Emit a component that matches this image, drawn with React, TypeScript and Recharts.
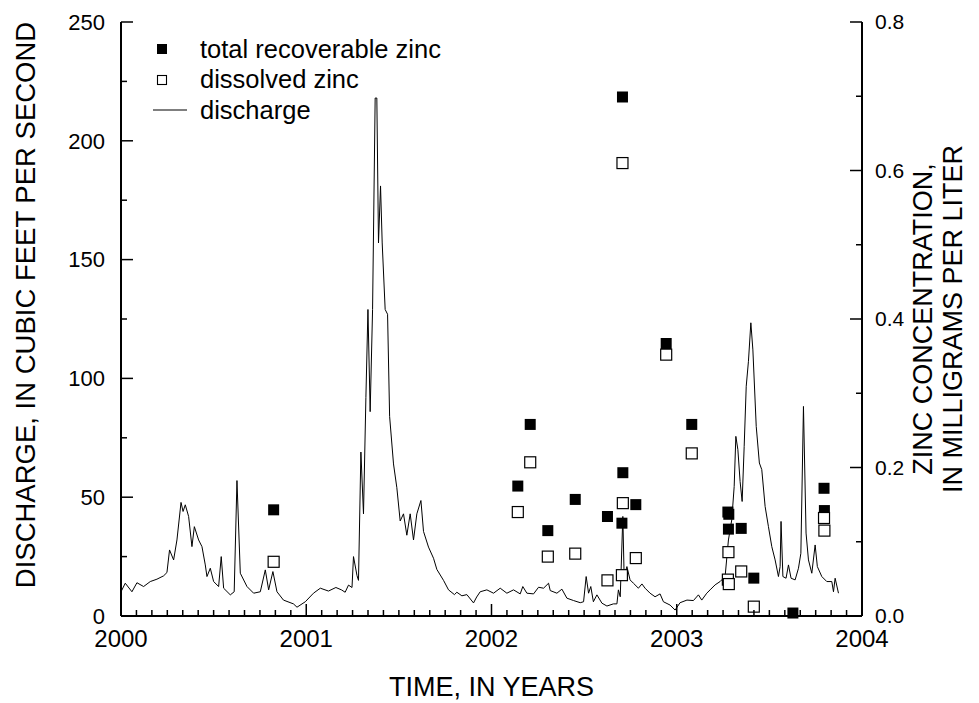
import React from "react";
import {
  ComposedChart,
  Line,
  Scatter,
  XAxis,
  YAxis,
  Legend,
} from "recharts";

const FONT = '"Liberation Sans", Arial, Helvetica, sans-serif';

// #region data
// daily discharge, sampled at the turning points of the trace (decimal year, cfs)
const dischargeYear = [
  2000.0, 2000.023, 2000.059, 2000.086, 2000.122, 2000.158, 2000.194, 2000.23,
  2000.248, 2000.262, 2000.284, 2000.302, 2000.324, 2000.335, 2000.347, 2000.365,
  2000.383, 2000.396, 2000.419, 2000.437, 2000.455, 2000.464, 2000.482, 2000.5,
  2000.527, 2000.541, 2000.554, 2000.59, 2000.611, 2000.626, 2000.644, 2000.68,
  2000.716, 2000.752, 2000.779, 2000.797, 2000.82, 2000.842, 2000.877, 2000.931,
  2000.95, 2000.995, 2001.039, 2001.076, 2001.12, 2001.16, 2001.19, 2001.21,
  2001.228, 2001.247, 2001.255, 2001.274, 2001.282, 2001.295, 2001.309, 2001.322,
  2001.333, 2001.345, 2001.358, 2001.372, 2001.381, 2001.39, 2001.401, 2001.41,
  2001.426, 2001.439, 2001.45, 2001.471, 2001.489, 2001.507, 2001.525, 2001.543,
  2001.561, 2001.579, 2001.597, 2001.619, 2001.633, 2001.66, 2001.687, 2001.705,
  2001.741, 2001.768, 2001.8, 2001.813, 2001.84, 2001.867, 2001.903, 2001.92,
  2001.939, 2001.975, 2002.011, 2002.047, 2002.083, 2002.119, 2002.155, 2002.169,
  2002.191, 2002.227, 2002.254, 2002.281, 2002.308, 2002.317, 2002.353, 2002.38,
  2002.407, 2002.443, 2002.479, 2002.497, 2002.511, 2002.524, 2002.536, 2002.55,
  2002.569, 2002.596, 2002.623, 2002.658, 2002.677, 2002.685, 2002.695, 2002.709,
  2002.716, 2002.731, 2002.748, 2002.766, 2002.793, 2002.812, 2002.829, 2002.856,
  2002.883, 2002.91, 2002.928, 2002.964, 2002.991, 2003.018, 2003.055, 2003.09,
  2003.117, 2003.135, 2003.162, 2003.18, 2003.207, 2003.234, 2003.261, 2003.279,
  2003.297, 2003.31, 2003.319, 2003.33, 2003.342, 2003.353, 2003.364, 2003.375,
  2003.387, 2003.4, 2003.411, 2003.429, 2003.446, 2003.459, 2003.477, 2003.495,
  2003.513, 2003.531, 2003.549, 2003.558, 2003.563, 2003.573, 2003.59, 2003.603,
  2003.617, 2003.639, 2003.657, 2003.67, 2003.684, 2003.698, 2003.711, 2003.729,
  2003.747, 2003.759, 2003.783, 2003.81, 2003.837, 2003.846, 2003.855, 2003.873,
];
const dischargeCfs = [
  10.2, 13.8, 10.2, 14, 12.4, 14.5, 15.5, 16.9,
  18.3, 27.8, 23.6, 32, 47.8, 44, 46.8, 41.9,
  29.2, 37.6, 32, 29.2, 21.5, 16.6, 20.1, 14.5,
  12.4, 25, 11.7, 8.9, 10.2, 57, 18, 12.4,
  9.6, 10.2, 19.4, 11, 18.7, 10.2, 6.7, 5.1,
  3.7, 6, 9.6, 11.7, 10.5, 12, 11, 10,
  13, 12, 25, 17, 15, 69, 43, 92,
  129, 86, 129, 218, 218, 157, 181, 157,
  129, 127, 84, 64, 54, 40, 43, 34,
  43, 32, 43, 48.6, 35.6, 29, 24.3, 19.6,
  15, 11, 9, 10, 8.5, 9, 5.5, 8,
  10.2, 11, 9.6, 11.7, 9.6, 11, 9.3, 12.4,
  9.6, 9.3, 12.1, 11.7, 13.8, 10.7, 9.6, 11.3,
  7.5, 6.5, 5.6, 6, 16.6, 9.6, 12.4, 6,
  8.9, 5.4, 4.2, 5.1, 5.1, 11, 8.1, 41.9,
  16.6, 20.8, 15.2, 13.8, 11.7, 13.5, 11.7, 9.6,
  8.1, 9.3, 6, 4.6, 2.5, 5.6, 6.7, 6.5,
  8.9, 6.7, 9.6, 11, 13.1, 14.5, 16.6, 32,
  40.5, 54.5, 75.6, 70, 56.6, 48.2, 71.4, 96.7,
  107.2, 123.4, 112, 79.8, 64.4, 61.6, 46.1, 37.6,
  29.2, 23.6, 16.6, 20.8, 39.8, 16.6, 15.9, 21.5,
  15.9, 15.2, 20.1, 26.4, 88.2, 34.9, 23.6, 18,
  29.9, 20.8, 16.6, 14.5, 14.5, 10.2, 15.9, 9.6,
];

// water-quality samples (decimal year, mg/L); null = not plotted
const sampleYear = [
  2000.824, 2002.142, 2002.209, 2002.304, 2002.452, 2002.626, 2002.704,
  2002.707, 2002.709, 2002.779, 2002.943, 2003.081, 2003.276, 2003.281,
  2003.279, 2003.348, 2003.416, 2003.627, 2003.795, 2003.797,
];
const totalZinc = [
  0.143, 0.175, 0.258, 0.115, 0.157, 0.134, 0.125,
  0.699, 0.193, 0.15, 0.367, 0.258, 0.14, 0.137,
  0.117, 0.118, 0.051, 0.004, 0.172, 0.142,
];
const dissolvedZinc = [
  0.073, 0.14, 0.207, 0.08, 0.084, 0.048, 0.055,
  0.61, 0.152, 0.078, 0.352, 0.219, 0.049, 0.043,
  0.086, 0.06, 0.0126, null, 0.132, 0.115,
];

const yearLabels = [2000, 2001, 2002, 2003, 2004];
const dischargeTicks = [0, 25, 50, 75, 100, 125, 150, 175, 200, 225, 250];
const zincTicks = [0, 0.1, 0.2, 0.3, 0.4, 0.5, 0.6, 0.7, 0.8];
// #endregion

const monthTicks = Array.from({ length: 49 }, (_, i) => 2000 + i / 12);
const isYear = (v: number) => yearLabels.some((y) => Math.abs(y - v) < 1e-6);

const flowData = dischargeYear.map((t, i) => ({ t, q: dischargeCfs[i] }));
const totalData = sampleYear.map((t, i) => ({ t, c: totalZinc[i] }));
const dissolvedData = sampleYear
  .map((t, i) => ({ t, c: dissolvedZinc[i] }))
  .filter((d) => d.c !== null);

const yTickText = { fontSize: 22, fontFamily: FONT, fill: "#000" };
const xTickText = { fontSize: 24, fontFamily: FONT, fill: "#000" };

function BottomTick({ x, y, payload }: any) {
  const major = isYear(payload.value);
  return (
    <g>
      <line x1={x} y1={y} x2={x} y2={y - (major ? 12 : 6)} stroke="#000" strokeWidth={1.5} />
      {major && (
        <text x={x} y={y + 14} dy="0.71em" textAnchor="middle" {...xTickText}>
          {Math.round(payload.value)}
        </text>
      )}
    </g>
  );
}

function TopTick({ x, y, payload }: any) {
  const major = isYear(payload.value);
  return <line x1={x} y1={y} x2={x} y2={y + (major ? 12 : 6)} stroke="#000" strokeWidth={1.5} />;
}

function LeftTick({ x, y, payload }: any) {
  const major = payload.value % 50 === 0;
  return (
    <g>
      <line x1={x} y1={y} x2={x + (major ? 12 : 6)} y2={y} stroke="#000" strokeWidth={1.5} />
      {major && (
        <text x={x - 16} y={y} dy="0.35em" textAnchor="end" {...yTickText}>
          {payload.value}
        </text>
      )}
    </g>
  );
}

function RightTick({ x, y, payload }: any) {
  const major = Math.round(payload.value * 10) % 2 === 0;
  return (
    <g>
      <line x1={x} y1={y} x2={x - (major ? 12 : 6)} y2={y} stroke="#000" strokeWidth={1.5} />
      {major && (
        <text x={x + 13} y={y} dy="0.35em" textAnchor="start" {...yTickText} fontSize={21}>
          {payload.value.toFixed(1)}
        </text>
      )}
    </g>
  );
}

const FilledSquare = ({ cx, cy }: any) => (
  <rect x={cx - 5.5} y={cy - 5.5} width={11} height={11} fill="#000" />
);
const OpenSquare = ({ cx, cy }: any) => (
  <rect x={cx - 5.5} y={cy - 5.5} width={11} height={11} fill="#fff" stroke="#000" strokeWidth={1.2} />
);

const titleStyle = { fontSize: 27, fontFamily: FONT, fill: "#000" };

function LegendBox() {
  const rows = [
    { label: "total recoverable zinc", icon: <rect x={17} y={10} width={10} height={10} fill="#000" /> },
    {
      label: "dissolved zinc",
      icon: <rect x={17.5} y={10.5} width={9} height={9} fill="#fff" stroke="#000" strokeWidth={1.1} />,
    },
    { label: "discharge", icon: <line x1={13} y1={15} x2={47} y2={15} stroke="#000" strokeWidth={1.2} /> },
  ];
  return (
    <div style={{ fontFamily: FONT, fontSize: 25.5, color: "#000" }}>
      {rows.map((r) => (
        <div key={r.label} style={{ display: "flex", alignItems: "center", height: 30.5 }}>
          <svg width={48} height={30}>{r.icon}</svg>
          <span style={{ marginLeft: 12, whiteSpace: "nowrap" }}>{r.label}</span>
        </div>
      ))}
    </div>
  );
}

export default function App() {
  return (
    <div style={{ position: "absolute", left: 0, top: 0, background: "#fff" }}>
      <ComposedChart
        width={979}
        height={703}
        margin={{ top: 22, right: 57, bottom: 47, left: 21 }}
      >
        <XAxis
          xAxisId="t"
          type="number"
          dataKey="t"
          domain={[2000, 2004]}
          allowDataOverflow
          ticks={monthTicks}
          interval={0}
          tickSize={0}
          tickMargin={0}
          height={40}
          axisLine={{ stroke: "#000", strokeWidth: 2 }}
          tickLine={false}
          tick={BottomTick}
          label={{
            content: ({ viewBox }: any) => (
              <text
                x={viewBox.x + viewBox.width / 2}
                y={viewBox.y + 71}
                textAnchor="middle"
                dominantBaseline="central"
                {...titleStyle}
              >
                TIME, IN YEARS
              </text>
            ),
          }}
        />
        <XAxis
          xAxisId="top"
          orientation="top"
          type="number"
          dataKey="t"
          domain={[2000, 2004]}
          allowDataOverflow
          ticks={monthTicks}
          interval={0}
          tickSize={0}
          tickMargin={0}
          height={0}
          axisLine={{ stroke: "#000", strokeWidth: 2 }}
          tickLine={false}
          tick={TopTick}
        />
        <YAxis
          yAxisId="q"
          dataKey="q"
          type="number"
          domain={[0, 250]}
          ticks={dischargeTicks}
          interval={0}
          width={100}
          tickSize={0}
          tickMargin={0}
          axisLine={{ stroke: "#000", strokeWidth: 2 }}
          tickLine={false}
          tick={LeftTick}
          label={{
            content: ({ viewBox }: any) => {
              const x = viewBox.x + 4;
              const y = viewBox.y + viewBox.height / 2 - 14;
              return (
                <text
                  x={x}
                  y={y}
                  transform={`rotate(-90, ${x}, ${y})`}
                  textAnchor="middle"
                  dominantBaseline="central"
                  {...titleStyle}
                  fontSize={27.5}
                >
                  DISCHARGE, IN CUBIC FEET PER SECOND
                </text>
              );
            },
          }}
        />
        <YAxis
          yAxisId="zn"
          orientation="right"
          dataKey="c"
          type="number"
          domain={[0, 0.8]}
          ticks={zincTicks}
          interval={0}
          width={60}
          tickSize={0}
          tickMargin={0}
          axisLine={{ stroke: "#000", strokeWidth: 2 }}
          tickLine={false}
          tick={RightTick}
          label={{
            content: ({ viewBox }: any) => {
              const y = viewBox.y + viewBox.height / 2;
              const x1 = viewBox.x + 61;
              const x2 = viewBox.x + 91;
              return (
                <g>
                  <text x={x1} y={y} transform={`rotate(-90, ${x1}, ${y})`} textAnchor="middle" dominantBaseline="central" {...titleStyle}>
                    ZINC CONCENTRATION,
                  </text>
                  <text x={x2} y={y} transform={`rotate(-90, ${x2}, ${y})`} textAnchor="middle" dominantBaseline="central" {...titleStyle}>
                    IN MILLIGRAMS PER LITER
                  </text>
                </g>
              );
            },
          }}
        />
        <Legend
          layout="vertical"
          align="center"
          verticalAlign="middle"
          content={() => <LegendBox />}
          wrapperStyle={{ left: 140, top: 34, width: "auto" }}
        />
        <Line
          xAxisId="t"
          yAxisId="q"
          data={flowData}
          dataKey="q"
          type="linear"
          stroke="#000"
          strokeWidth={1}
          dot={false}
          activeDot={false}
          isAnimationActive={false}
        />
        <Scatter
          xAxisId="t"
          yAxisId="zn"
          data={totalData}
          shape={FilledSquare}
          isAnimationActive={false}
        />
        <Scatter
          xAxisId="t"
          yAxisId="zn"
          data={dissolvedData}
          shape={OpenSquare}
          isAnimationActive={false}
        />
      </ComposedChart>
    </div>
  );
}
